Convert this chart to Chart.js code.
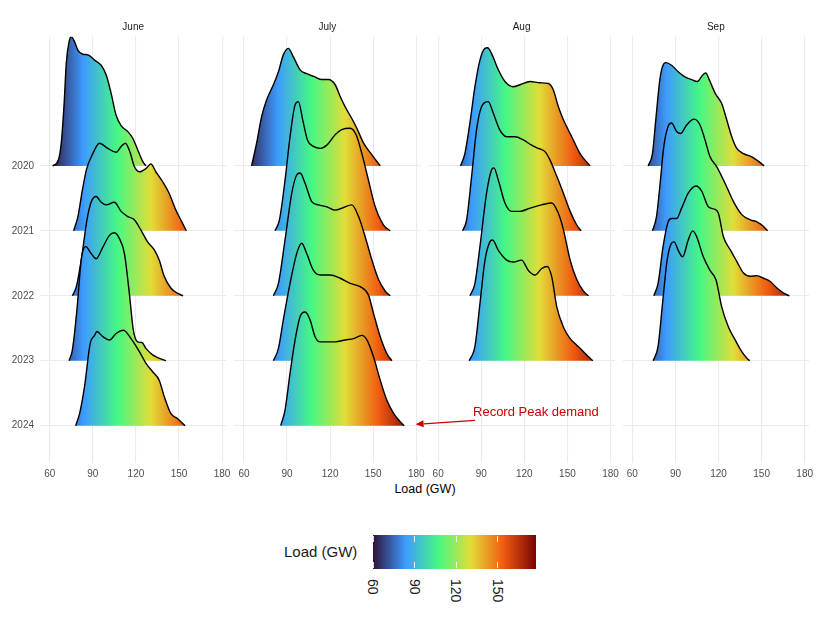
<!DOCTYPE html>
<html lang="en">
<head>
<meta charset="UTF-8">
<title>Load (GW) ridgelines, June - Sep</title>
<script src="https://cdn.jsdelivr.net/npm/chart.js"></script>
<style>
  body { margin: 0; background: #fff; font-family: 'Liberation Sans', Arial, sans-serif; }
  #wrap { position: relative; width: 826px; height: 620px; overflow: hidden; }
  #wrap canvas { position: absolute; left: 0; top: 0; }
  .xtitle { position: absolute; top: 482px; left: 325px; width: 200px; text-align: center; font-size: 12.5px; color: #000; }
  .ltitle { position: absolute; top: 543px; left: 284px; font-size: 15px; color: #1a1a1a; }
  .lbar { position: absolute; }
  .ltick { position: absolute; width: 1px; background: rgba(255,255,255,0.85); }
  .llab { position: absolute; writing-mode: vertical-rl; font-size: 14px; line-height: 16px; color: #1a1a1a; }
</style>
</head>
<body>
<div id="wrap">
  <div class="xtitle">Load (GW)</div>
  <div class="ltitle">Load (GW)</div>
</div>

<script>
// facets and axes
const months = ['June', 'July', 'Aug', 'Sep'];
const years = ['2020', '2021', '2022', '2023', '2024'];
const xTicks = [60, 90, 120, 150, 180];
const legendTicks = [60, 90, 120, 150];
const fillColors = ['#30123B', '#3E9BFE', '#46F884', '#E1DD37', '#F05B12', '#7A0403'];
const fillMin = 60, fillMax = 177.5;

// ridge outlines: [load GW, ridge height in rows]
const june2020 = [[62,0],[66,0.09],[68,0.35],[70,0.96],[71.5,1.58],[73.4,1.91],[75,1.99],[77.3,1.91],[79.6,1.78],[83.1,1.72],[86.6,1.71],[91.2,1.63],[95.8,1.55],[99.3,1.4],[102.7,1.12],[106.2,0.78],[109.7,0.62],[114.3,0.53],[117.7,0.43],[121.2,0.25],[124.7,0.07],[127,0]];
const june2021 = [[76.6,0],[79.6,0.22],[82.5,0.6],[85.5,0.94],[90,1.19],[94.6,1.35],[100.4,1.27],[106.2,1.21],[109.7,1.3],[112.7,1.35],[115.9,1.21],[118.9,0.99],[122.4,0.91],[127,0.96],[130.4,1.03],[133.9,0.91],[138.5,0.76],[143.1,0.58],[147.8,0.32],[152.4,0.12],[155.1,0]];
const june2022 = [[75.7,0],[78.5,0.14],[81.9,0.55],[85.9,1.17],[88.9,1.45],[92.3,1.53],[95.8,1.44],[99.3,1.4],[105,1.44],[109.7,1.3],[114.3,1.22],[118.9,1.17],[123.5,1.01],[128.1,0.83],[132.7,0.71],[136.2,0.55],[139.7,0.3],[144.3,0.12],[148.9,0.04],[152.8,0]];
const june2023 = [[73.4,0],[75.7,0.16],[78.9,0.78],[81.9,1.55],[84.9,1.76],[88.9,1.65],[92.3,1.57],[97,1.75],[101.6,1.93],[105,1.97],[108.5,1.88],[112,1.65],[115.4,1.04],[118.2,0.47],[121.2,0.29],[124.2,0.28],[127,0.19],[131.6,0.09],[136,0.04],[140.8,0]];
const june2024 = [[78,0],[80.8,0.19],[84.2,0.6],[88.2,1.27],[91.2,1.39],[92.8,1.45],[97,1.37],[101.6,1.32],[106.2,1.42],[111.3,1.47],[116.6,1.34],[122.4,1.14],[127,0.96],[131.6,0.83],[136.2,0.7],[139.7,0.45],[144.3,0.19],[148.9,0.11],[151.2,0.06],[154.2,0]];

const july2020 = [[65.3,0],[68.8,0.35],[72.3,0.76],[75.8,1.02],[80.5,1.25],[84,1.45],[87.4,1.71],[90.9,1.81],[94.4,1.68],[99.1,1.48],[103.7,1.42],[109.5,1.37],[114.2,1.33],[118.8,1.33],[123.5,1.25],[127,1.07],[130.5,0.91],[135.1,0.73],[138.6,0.58],[143.3,0.35],[149.1,0.17],[154.9,0]];
const july2021 = [[81.6,0],[84.7,0.17],[88.6,0.78],[92.1,1.45],[95.6,1.94],[97.9,1.99],[100.9,1.71],[104.2,1.4],[108.4,1.3],[113,1.27],[117.7,1.32],[123.5,1.48],[128.1,1.56],[134,1.58],[138.1,1.48],[142.1,1.19],[146.7,0.78],[151.4,0.37],[157.2,0.09],[161.9,0]];
const july2022 = [[80.5,0],[84,0.19],[88.6,0.86],[93.3,1.58],[96.7,1.86],[99.1,1.89],[102.6,1.73],[107.2,1.45],[111.9,1.4],[117.7,1.37],[123.5,1.32],[129.3,1.36],[135.1,1.4],[139.8,1.22],[144.4,0.91],[149.1,0.55],[153.7,0.25],[158.4,0.07],[161.9,0]];
const july2023 = [[80.5,0],[84,0.19],[87.4,0.63],[92.1,1.19],[96.7,1.65],[100.2,1.81],[103.7,1.65],[108.4,1.39],[113,1.32],[120,1.32],[127,1.27],[134,1.19],[140.9,1.14],[146.7,1.01],[150.2,0.73],[154.9,0.37],[159.5,0.11],[163,0]];
const july2024 = [[85.6,0],[88.6,0.24],[92.1,0.81],[95.6,1.32],[99.1,1.68],[102.6,1.75],[106,1.63],[109.5,1.37],[113,1.29],[118,1.29],[123.5,1.29],[130.5,1.32],[136.3,1.34],[142.1,1.39],[145.6,1.32],[150.2,1.06],[154.9,0.7],[159.5,0.39],[164.2,0.19],[168.8,0.06],[171.6,0]];

const aug2020 = [[75.6,0],[78.6,0.19],[82.1,0.66],[85.6,1.22],[89.1,1.63],[92.6,1.81],[94.4,1.82],[97.2,1.73],[101.9,1.48],[106.5,1.3],[112.3,1.22],[117,1.25],[124,1.3],[130.9,1.28],[136.7,1.27],[140.2,1.17],[143.7,0.91],[147.2,0.71],[153,0.45],[158.8,0.19],[165.8,0]];
const aug2021 = [[77,0],[79.8,0.17],[83.3,0.84],[86.7,1.55],[90.2,1.91],[94.9,1.99],[98.4,1.81],[103,1.55],[107.7,1.45],[113.5,1.45],[119.3,1.4],[125.1,1.32],[129.8,1.27],[134.4,1.22],[137.9,1.09],[142.6,0.84],[147.2,0.58],[151.9,0.3],[156.5,0.09],[159.5,0]];
const aug2022 = [[82.1,0],[85.6,0.19],[89.1,0.76],[93.7,1.58],[97.2,1.94],[98.8,1.97],[101.9,1.78],[106.5,1.43],[111.2,1.3],[117,1.3],[124,1.35],[132.1,1.4],[139.1,1.43],[143.7,1.27],[147.2,1.02],[151.9,0.55],[156.5,0.25],[161.2,0.07],[164.7,0]];
const aug2023 = [[81.6,0],[85.6,0.22],[89.1,0.88],[92.6,1.55],[96,1.83],[97.9,1.86],[101.9,1.7],[107.7,1.55],[112.3,1.52],[118.1,1.55],[122.8,1.39],[127.4,1.32],[132.1,1.42],[136,1.45],[139.1,1.29],[142.6,0.83],[147.2,0.52],[151.9,0.34],[156.5,0.24],[161.2,0.14],[164.7,0.06],[167.7,0]];

const sep2020 = [[71,0],[74,0.19],[76.3,0.71],[79.1,1.32],[81,1.53],[83.3,1.59],[87.3,1.55],[91.9,1.45],[96.6,1.37],[101.3,1.33],[105.2,1.3],[109,1.4],[111,1.43],[114.1,1.3],[117.6,1.12],[122.2,0.96],[125.7,0.71],[129.2,0.45],[132.7,0.27],[137.4,0.19],[143.2,0.14],[147.9,0.07],[151.8,0]];
const sep2021 = [[74,0],[76.8,0.22],[79.1,0.68],[81.9,1.3],[84.9,1.61],[87.3,1.66],[90.8,1.53],[93.6,1.5],[97.8,1.63],[102.9,1.72],[107.1,1.63],[110.6,1.4],[114.1,1.14],[118.7,0.99],[124.6,0.73],[130.4,0.45],[136.2,0.25],[142.1,0.17],[146.7,0.14],[150.2,0.09],[154.2,0]];
const sep2022 = [[74.9,0],[77.9,0.19],[81.4,0.76],[84.9,1.14],[87.3,1.19],[90.8,1.19],[94.3,1.35],[98.9,1.58],[104.3,1.69],[108.3,1.61],[112.9,1.37],[117.6,1.33],[119.9,1.27],[123.4,0.91],[128.1,0.71],[132.7,0.53],[137.4,0.35],[142.1,0.3],[146.7,0.31],[151.4,0.27],[156,0.22],[160.7,0.12],[165.4,0.04],[169.3,0]];
const sep2023 = [[74.5,0],[77.9,0.22],[81,0.88],[84.2,1.55],[87.3,1.81],[89.1,1.83],[91.9,1.7],[95,1.6],[98.9,1.86],[102,2.0],[104.8,1.91],[109.4,1.6],[114.1,1.39],[118.3,1.24],[122.2,0.83],[126.9,0.52],[131.6,0.32],[136.2,0.14],[139.7,0.04],[141.6,0]];

const juneRidges = [june2020, june2021, june2022, june2023, june2024];
const julyRidges = [july2020, july2021, july2022, july2023, july2024];
const augRidges = [aug2020, aug2021, aug2022, aug2023, null];
const sepRidges = [sep2020, sep2021, sep2022, sep2023, null];

// annotation in July units (load GW, rows above 2024)
const peakNote = { text: 'Record Peak demand', at: [219.5, 0.2], from: [221, 0.08], to: [179.5, 0.02] };

// layout
const W = 826, H = 500;
const panelLeft = 40, panelWidth = 186.4, panelStep = 194.2;
const plotTop = 36.7, plotBottom = 463;
const yLabelW = 40, xLabelH = 20;
const wrap = document.getElementById('wrap');
const font = "'Liberation Sans', Arial, sans-serif";

function ridgeGradient(chart) {
  const x = chart.scales.x;
  if (!x || !chart.chartArea) return 'rgba(0,0,0,0)';
  const g = chart.ctx.createLinearGradient(x.getPixelForValue(fillMin), 0, x.getPixelForValue(fillMax), 0);
  fillColors.forEach((c, i) => g.addColorStop(i / (fillColors.length - 1), c));
  return g;
}

const stripPlugin = {
  id: 'strip',
  afterDraw(chart, args, opts) {
    const { ctx, chartArea } = chart;
    ctx.save();
    ctx.font = '10px ' + font;
    ctx.fillStyle = '#1a1a1a';
    ctx.textAlign = 'center';
    ctx.textBaseline = 'middle';
    ctx.fillText(opts.text, (chartArea.left + chartArea.right) / 2, chartArea.top - 9.5);
    ctx.restore();
  }
};

const notePlugin = {
  id: 'note',
  afterDraw(chart) {
    const { ctx, scales: { x, y } } = chart;
    const px = p => [x.getPixelForValue(p[0]), y.getPixelForValue(p[1])];
    const [x1, y1] = px(peakNote.from), [x2, y2] = px(peakNote.to), [tx, ty] = px(peakNote.at);
    const red = '#cc0000';
    ctx.save();
    ctx.strokeStyle = red; ctx.fillStyle = red; ctx.lineWidth = 1.3;
    const a = Math.atan2(y2 - y1, x2 - x1);
    const hl = 8, hw = 3.5;
    const bx = x2 - hl * Math.cos(a), by = y2 - hl * Math.sin(a);
    ctx.beginPath(); ctx.moveTo(x1, y1); ctx.lineTo(bx, by); ctx.stroke();
    ctx.beginPath();
    ctx.moveTo(x2, y2);
    ctx.lineTo(bx + hw * Math.sin(a), by - hw * Math.cos(a));
    ctx.lineTo(bx - hw * Math.sin(a), by + hw * Math.cos(a));
    ctx.closePath(); ctx.fill();
    ctx.font = '13px ' + font;
    ctx.textAlign = 'left'; ctx.textBaseline = 'middle';
    ctx.fillText(peakNote.text, tx, ty);
    ctx.restore();
  }
};

function makePanel(i, ridges, extra) {
  const canvas = document.createElement('canvas');
  canvas.width = W; canvas.height = H;
  canvas.style.zIndex = extra ? 2 : 1;
  wrap.appendChild(canvas);
  const left = panelLeft + i * panelStep;
  const first = i === 0;
  const n = years.length;

  const datasets = [];
  ridges.forEach((pts, k) => {
    if (!pts) return;
    const base = n - 1 - k;
    datasets.push({
      label: months[i] + ' ' + years[k],
      data: pts.map(p => ({ x: p[0], y: base + p[1] })),
      fill: { value: base },
      order: base,
      borderColor: '#000',
      borderWidth: 1.4,
      pointRadius: 0,
      cubicInterpolationMode: 'monotone',
      backgroundColor: ctx => ridgeGradient(ctx.chart)
    });
  });

  const grid = { color: '#ebebeb', lineWidth: 1.1, drawTicks: false };

  new Chart(canvas.getContext('2d'), {
    type: 'line',
    data: { datasets },
    options: {
      responsive: false,
      animation: false,
      devicePixelRatio: 1,
      layout: {
        padding: {
          left: first ? left - yLabelW : left,
          right: W - left - panelWidth,
          top: plotTop,
          bottom: H - plotBottom - xLabelH
        }
      },
      plugins: {
        legend: { display: false },
        tooltip: { enabled: false },
        strip: { text: months[i] }
      },
      scales: {
        x: {
          type: 'linear', min: 53.2, max: 183,
          afterBuildTicks: s => { s.ticks = xTicks.map(v => ({ value: v })); },
          afterFit: s => { s.height = xLabelH; },
          grid, border: { display: false },
          ticks: { padding: 5, color: '#4d4d4d', font: { size: 10, family: font } }
        },
        y: {
          type: 'linear', min: -0.575, max: 5.99,
          afterBuildTicks: s => { s.ticks = years.map((_, k) => ({ value: n - 1 - k })); },
          afterFit: s => { s.width = first ? yLabelW : 0; },
          grid, border: { display: false },
          ticks: {
            display: first, padding: 6, color: '#4d4d4d',
            font: { size: 10, family: font },
            callback: v => years[n - 1 - v]
          }
        }
      }
    },
    plugins: extra ? [stripPlugin, extra] : [stripPlugin]
  });
}

makePanel(0, juneRidges);
makePanel(1, julyRidges, notePlugin);
makePanel(2, augRidges);
makePanel(3, sepRidges);

// colour bar legend
const bar = { left: 373.3, top: 535, width: 162.7, height: 33.5 };
const barEl = document.createElement('div');
barEl.className = 'lbar';
Object.assign(barEl.style, {
  left: bar.left + 'px', top: bar.top + 'px', width: bar.width + 'px', height: bar.height + 'px',
  background: 'linear-gradient(to right, ' + fillColors.join(', ') + ')'
});
wrap.appendChild(barEl);
legendTicks.forEach(v => {
  const x = bar.left + (v - fillMin) / (fillMax - fillMin) * bar.width;
  [bar.top + 1, bar.top + bar.height - 7].forEach(t => {
    const tk = document.createElement('div');
    tk.className = 'ltick';
    Object.assign(tk.style, { left: (x - 0.5) + 'px', top: t + 'px', height: '6px' });
    wrap.appendChild(tk);
  });
  const lab = document.createElement('span');
  lab.className = 'llab';
  lab.textContent = v;
  Object.assign(lab.style, { left: (x - 8) + 'px', top: '579px' });
  wrap.appendChild(lab);
});
</script>
</body>
</html>
